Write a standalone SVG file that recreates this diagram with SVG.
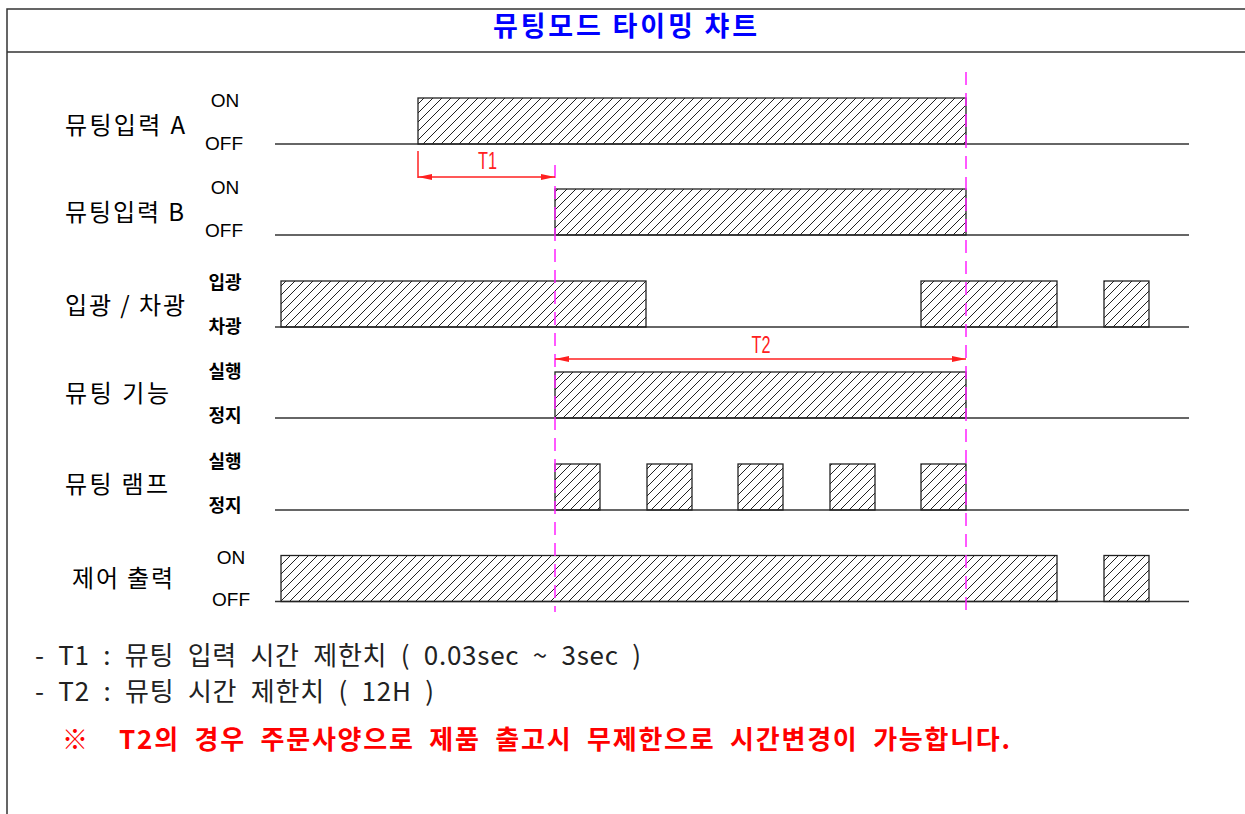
<svg xmlns="http://www.w3.org/2000/svg" width="1245" height="814" viewBox="0 0 1245 814">
<style>
.frame{stroke:#333;stroke-width:1.5;fill:none}
.base{stroke:#333;stroke-width:1.4;fill:none}
.pulse{stroke:#222;stroke-width:1.3;fill:url(#hatch)}
.guide{stroke:#ff22ff;stroke-width:1.5;stroke-dasharray:13 8;fill:none}
.dim{stroke:#ff2020;stroke-width:1.5;fill:none}
.title{font-family:"Noto Sans CJK KR","Noto Sans",sans-serif;font-weight:bold;font-size:27px;fill:#0000ff}
.lbl{font-family:"Noto Sans CJK KR","Noto Sans",sans-serif;font-weight:normal;font-size:24px;fill:#000}
.st{font-family:"Liberation Sans",Arial,sans-serif;font-size:19px;fill:#000;text-anchor:middle}
.sk{font-family:"Noto Sans CJK KR",sans-serif;font-weight:bold;font-size:18px;fill:#000;text-anchor:middle}
.tt{font-family:"Liberation Sans",Arial,sans-serif;font-size:24px;fill:#ff2020;text-anchor:middle}
.note{font-family:"Noto Sans CJK KR","Noto Sans",sans-serif;font-size:26px;fill:#222;word-spacing:7px}
.warn{font-family:"Noto Sans CJK KR","Noto Sans",sans-serif;font-weight:bold;font-size:26px;fill:#ff0000;word-spacing:7px}
</style>
<defs>
<pattern id="hatch" patternUnits="userSpaceOnUse" width="9" height="9">
<path d="M-1,1 L1,-1 M0,9 L9,0 M8,10 L10,8" stroke="#222" stroke-width="1"/>
</pattern>
<marker id="ah" viewBox="0 0 14 6" refX="14" refY="3" markerWidth="14" markerHeight="6" markerUnits="userSpaceOnUse" orient="auto-start-reverse">
<path d="M0,0 L14,3 L0,6 Z" fill="#ff2020"/>
</marker>
</defs>

<g id="frame">
<path class="frame" d="M7,814 V9 H1245 M7,52 H1245"/>
<text class="title" x="493" y="36" textLength="264" lengthAdjust="spacing">뮤팅모드 타이밍 챠트</text>
</g>

<g id="row-input-a">
<text class="lbl" x="65" y="134" textLength="120" lengthAdjust="spacing">뮤팅입력 A</text>
<text class="st" x="225" y="107">ON</text>
<text class="st" x="224" y="150">OFF</text>
<line class="base" x1="275" y1="144" x2="1189" y2="144"/>
<rect class="pulse" x="418" y="98" width="548" height="46"/>
</g>

<g id="row-input-b">
<text class="lbl" x="65" y="221" textLength="119" lengthAdjust="spacing">뮤팅입력 B</text>
<text class="st" x="225" y="194">ON</text>
<text class="st" x="224" y="237">OFF</text>
<line class="base" x1="275" y1="235" x2="1189" y2="235"/>
<rect class="pulse" x="555" y="189" width="411" height="46"/>
</g>

<g id="row-light">
<text class="lbl" x="65" y="314" textLength="120" lengthAdjust="spacing">입광 / 차광</text>
<text class="sk" x="225" y="289">입광</text>
<text class="sk" x="225" y="333">차광</text>
<line class="base" x1="275" y1="327" x2="1189" y2="327"/>
<rect class="pulse" x="281" y="281" width="365" height="46"/>
<rect class="pulse" x="921" y="281" width="136" height="46"/>
<rect class="pulse" x="1104" y="281" width="45" height="46"/>
</g>

<g id="row-function">
<text class="lbl" x="65" y="402" textLength="104" lengthAdjust="spacing">뮤팅 기능</text>
<text class="sk" x="225" y="378">실행</text>
<text class="sk" x="225" y="422">정지</text>
<line class="base" x1="275" y1="418" x2="1189" y2="418"/>
<rect class="pulse" x="555" y="372" width="411" height="46"/>
</g>

<g id="row-lamp">
<text class="lbl" x="65" y="493" textLength="103" lengthAdjust="spacing">뮤팅 램프</text>
<text class="sk" x="225" y="468">실행</text>
<text class="sk" x="225" y="512">정지</text>
<line class="base" x1="275" y1="510" x2="1189" y2="510"/>
<rect class="pulse" x="555" y="464" width="45" height="46"/>
<rect class="pulse" x="647" y="464" width="45" height="46"/>
<rect class="pulse" x="738" y="464" width="45" height="46"/>
<rect class="pulse" x="830" y="464" width="45" height="46"/>
<rect class="pulse" x="921" y="464" width="45" height="46"/>
</g>

<g id="row-output">
<text class="lbl" x="72" y="587" textLength="101" lengthAdjust="spacing">제어 출력</text>
<text class="st" x="231" y="564">ON</text>
<text class="st" x="231" y="606">OFF</text>
<line class="base" x1="275" y1="601.5" x2="1189" y2="601.5"/>
<rect class="pulse" x="281" y="555.5" width="776" height="46"/>
<rect class="pulse" x="1104" y="555.5" width="45" height="46"/>
</g>

<g id="connectors">
<line class="guide" x1="966" y1="72" x2="966" y2="612"/>
<line class="guide" x1="555" y1="165" x2="555" y2="612"/>
<line class="dim" x1="418" y1="151" x2="418" y2="178"/>
<line class="dim" x1="418" y1="177" x2="555" y2="177" marker-start="url(#ah)" marker-end="url(#ah)"/>
<line class="dim" x1="555" y1="359" x2="966" y2="359" marker-start="url(#ah)" marker-end="url(#ah)"/>
<text class="tt" x="487.5" y="169" textLength="19" lengthAdjust="spacingAndGlyphs">T1</text>
<text class="tt" x="761" y="353" textLength="19" lengthAdjust="spacingAndGlyphs">T2</text>
</g>

<g id="notes">
<text class="note" x="35" y="665" textLength="606" lengthAdjust="spacing" xml:space="preserve">- T1 : 뮤팅 입력 시간 제한치 ( 0.03sec ~ 3sec )</text>
<text class="note" x="35" y="701" textLength="399" lengthAdjust="spacing" xml:space="preserve">- T2 : 뮤팅 시간 제한치 ( 12H )</text>
<text class="warn" x="62" y="749" textLength="948" lengthAdjust="spacing" xml:space="preserve">※  T2의 경우 주문사양으로 제품 출고시 무제한으로 시간변경이 가능합니다.</text>
</g>
</svg>
